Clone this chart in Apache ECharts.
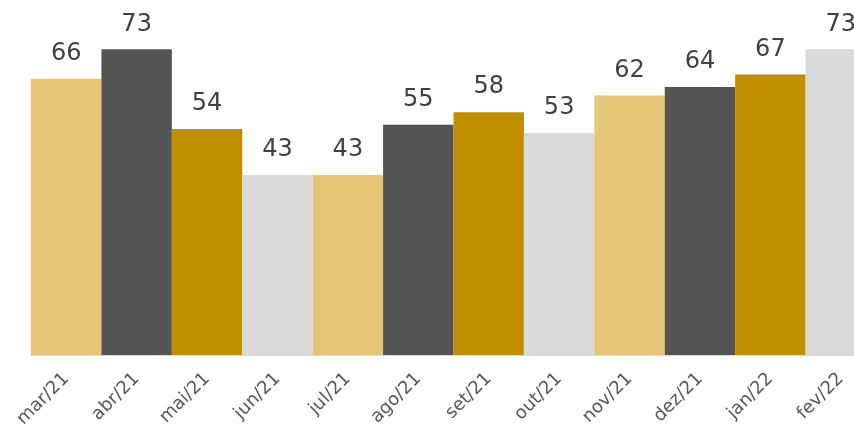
<!DOCTYPE html>
<html>
<head>
<meta charset="utf-8">
<script src="https://cdn.jsdelivr.net/npm/echarts@6/dist/echarts.min.js"></script>
<style>
  html, body { margin: 0; padding: 0; background: #fff; }
  #chart { width: 854px; height: 428px; }
</style>
</head>
<body>
<div id="chart"></div>
<script>
  const months = ['mar/21', 'abr/21', 'mai/21', 'jun/21', 'jul/21', 'ago/21', 'set/21', 'out/21', 'nov/21', 'dez/21', 'jan/22', 'fev/22']
  const values = [66, 73, 54, 43, 43, 55, 58, 53, 62, 64, 67, 73]
  const palette = ['#E6C577', '#545454', '#BF8F00', '#D9D9D9']

  const chart = echarts.init(document.getElementById('chart'))
  chart.setOption({
    animation: false,
    // the last bar runs past the right edge, like the original
    grid: { left: 31, width: 845, top: 20, bottom: 73, containLabel: false, outerBoundsMode: 'none' },
    xAxis: {
      type: 'category',
      data: months,
      axisTick: { show: false },
      axisLine: { lineStyle: { color: '#D9D9D9', width: 2 } },
      axisLabel: {
        rotate: 45,
        interval: 0,
        color: '#595959',
        fontSize: 18,
        fontFamily: 'DejaVu Sans',
        margin: 21
      }
    },
    yAxis: {
      type: 'value',
      min: 0,
      max: 80,
      show: false,
      splitLine: { show: false }
    },
    series: [{
      type: 'bar',
      barWidth: '100%',
      barCategoryGap: 0,
      data: values.map((v, i) => ({ value: v, itemStyle: { color: palette[i % 4] } })),
      label: {
        show: true,
        position: 'top',
        distance: 13,
        color: '#404040',
        fontSize: 24,
        fontFamily: 'DejaVu Sans'
      }
    }]
  })
</script>
</body>
</html>
